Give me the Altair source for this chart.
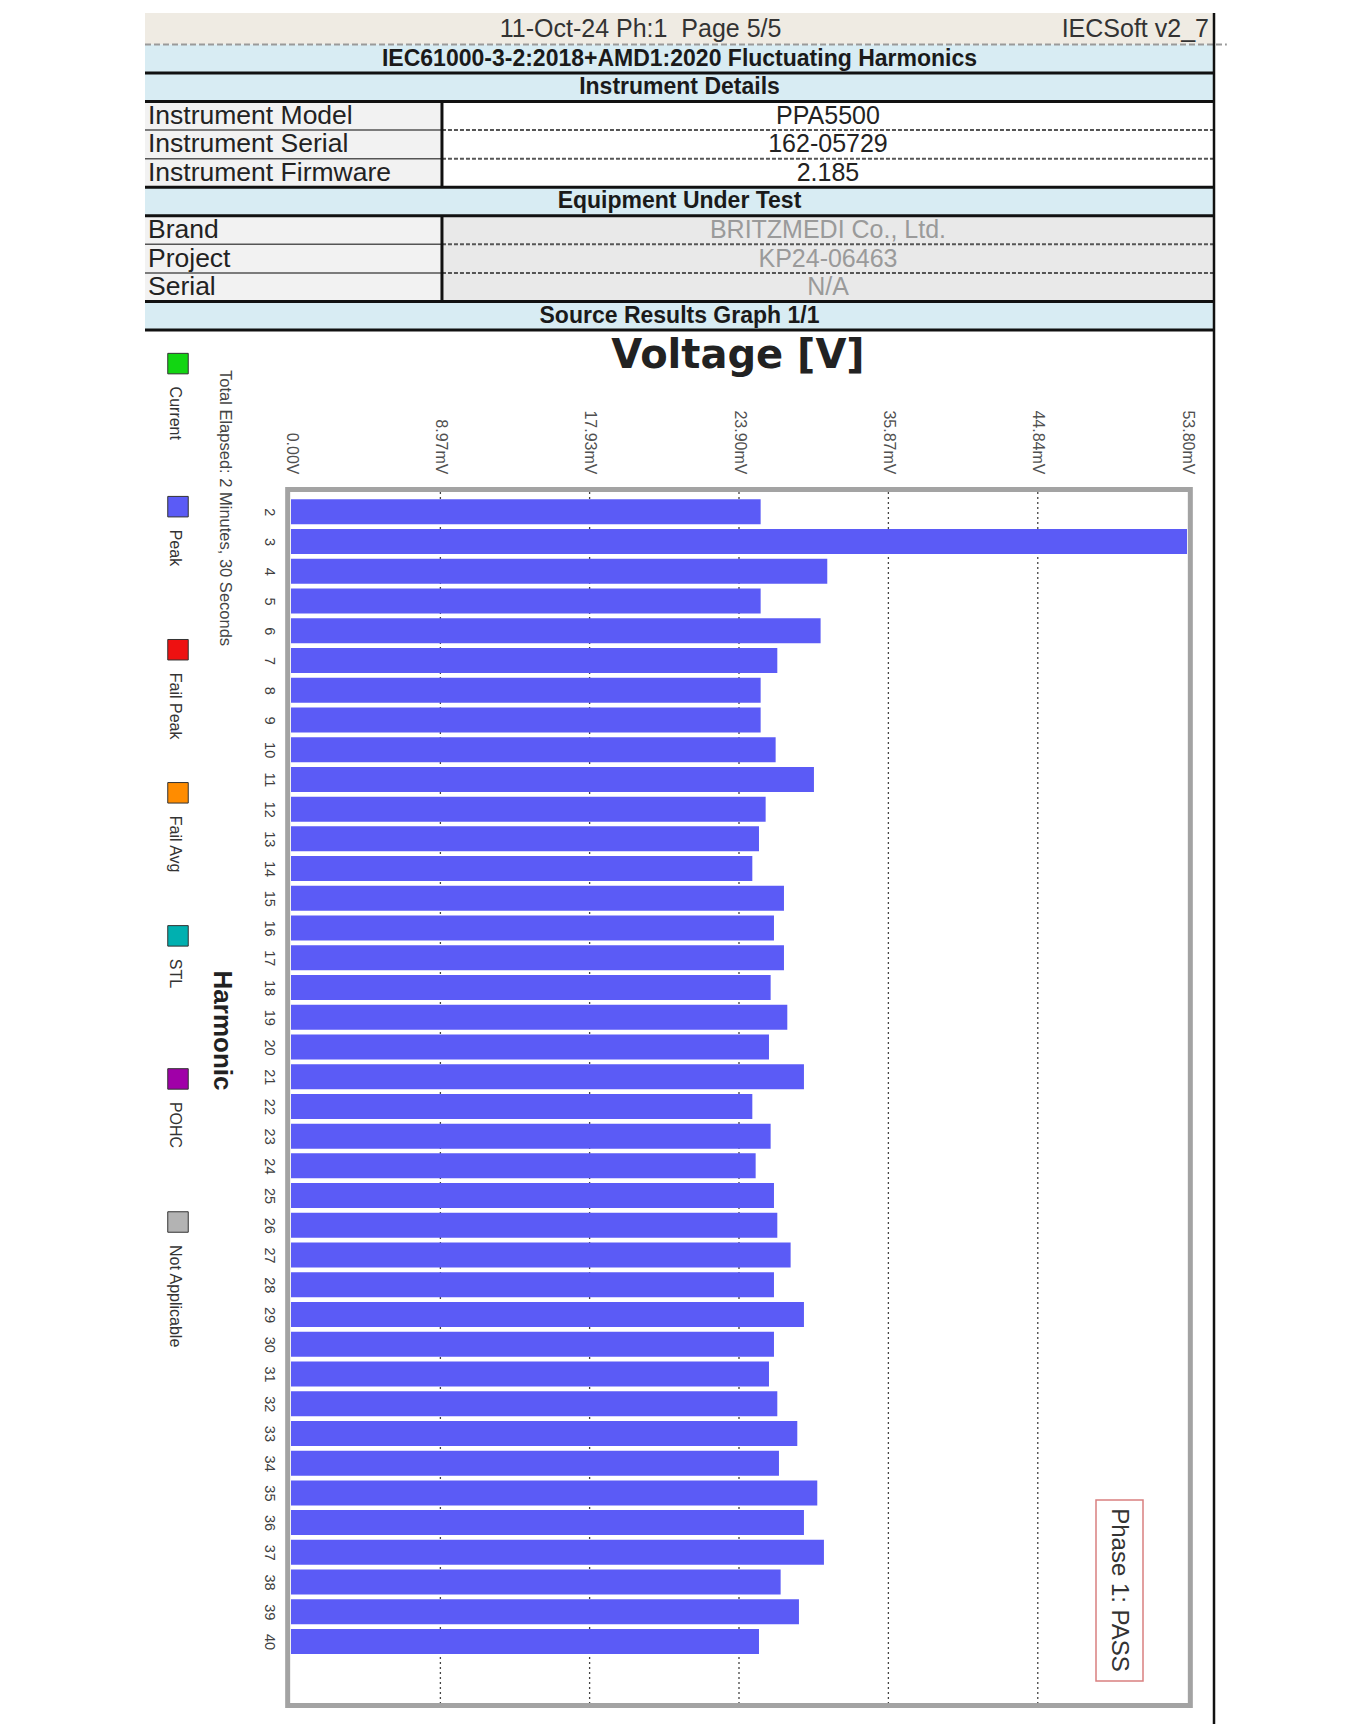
import altair as alt
import pandas as pd

# ---------------- data ----------------
harmonics = list(range(2, 41))
peak_mv = [28.2, 53.8, 32.2, 28.2, 31.8, 29.2, 28.2, 28.2, 29.1, 31.4,
           28.5, 28.1, 27.7, 29.6, 29.0, 29.6, 28.8, 29.8, 28.7, 30.8,
           27.7, 28.8, 27.9, 29.0, 29.2, 30.0, 29.0, 30.8, 29.0, 28.7,
           29.2, 30.4, 29.3, 31.6, 30.8, 32.0, 29.4, 30.5, 28.1]
x_tick_values = [0.0, 8.97, 17.93, 26.90, 35.87, 44.84, 53.80]
x_tick_labels = ["0.00V", "8.97mV", "17.93mV", "23.90mV", "35.87mV", "44.84mV", "53.80mV"]

legend_names = ["Current", "Peak", "Fail Peak", "Fail Avg", "STL", "POHC", "Not Applicable"]
legend_colors = ["#12d612", "#5b5bf6", "#ee1111", "#ff8c00", "#00b0b0", "#a000a8", "#b3b3b3"]

page_line = ["11-Oct-24 Ph:1\u00a0\u00a0Page 5/5", "IECSoft v2_7"]
section_titles = ["IEC61000-3-2:2018+AMD1:2020 Fluctuating Harmonics", "Instrument Details",
                  "Equipment Under Test", "Source Results Graph 1/1"]
instrument_labels = ["Instrument Model", "Instrument Serial", "Instrument Firmware"]
instrument_values = ["PPA5500", "162-05729", "2.185"]
eut_labels = ["Brand", "Project", "Serial"]
eut_values = ["BRITZMEDI Co., Ltd.", "KP24-06463", "N/A"]

chart_title = "Voltage [V]"
elapsed_note = "Total Elapsed: 2 Minutes, 30 Seconds"
verdict = "Phase 1: PASS"

# ---------------- layout ----------------
W, H = 1069, 1705
FONT = "Liberation Sans"
BAR_COLOR = "#5b5bf6"

volt_scale = alt.Scale(domain=[0, 53.8], range=[146, 1042], nice=False, zero=False)
harm_scale = alt.Scale(domain=[1.5, 41.9], range=[479, 1690], nice=False, zero=False)
hx = alt.Scale(domain=[0, 1], range=[0, W], nice=False, zero=False)
hy = alt.Scale(domain=[-0.1, 11], range=[0, 317], nice=False, zero=False)
leg_scale = alt.Scale(domain=[0, 6], range=[350.6, 1209], nice=False, zero=False)
split = 0.2778


def HX(f):
    return alt.X(f, type="quantitative", scale=hx, axis=None)


def HX2(f):
    return alt.X2(f)


def HY(f):
    return alt.Y(f, type="quantitative", scale=hy, axis=None)


# ---------------- header table ----------------
rects = [dict(x0=0, x1=1, y0=-0.1, y1=1, fill="#efebe3")]
for r in (1, 2, 6, 10):
    rects.append(dict(x0=0, x1=1, y0=r, y1=r + 1, fill="#d8ecf3"))
for r in (3, 4, 5):
    rects.append(dict(x0=0, x1=split, y0=r, y1=r + 1, fill="#f2f2f2"))
    rects.append(dict(x0=split, x1=1, y0=r, y1=r + 1, fill="#ffffff"))
for r in (7, 8, 9):
    rects.append(dict(x0=0, x1=split, y0=r, y1=r + 1, fill="#f2f2f2"))
    rects.append(dict(x0=split, x1=1, y0=r, y1=r + 1, fill="#e9e9e9"))
rect_df = pd.DataFrame(rects)

hdr_rects = alt.Chart(rect_df).mark_rect().encode(
    x=HX("x0"), x2=HX2("x1"), y=HY("y0"), y2=alt.Y2("y1"),
    fill=alt.Fill("fill:N", scale=None),
)

center_txt = [dict(t=page_line[0], x=0.4636, y=0.45, c="#333333")]
for i, v in enumerate(instrument_values):
    center_txt.append(dict(t=v, x=(split + 1) / 2, y=3 + i + 0.5, c="#222222"))
for i, v in enumerate(eut_values):
    center_txt.append(dict(t=v, x=(split + 1) / 2, y=7 + i + 0.5, c="#9a9a9a"))
center_df = pd.DataFrame(center_txt)
hdr_center = alt.Chart(center_df).mark_text(
    font=FONT, fontSize=25, align="center", baseline="middle"
).encode(x=HX("x"), y=HY("y"), text="t:N", color=alt.Color("c:N", scale=None))

right_df = pd.DataFrame([dict(t=page_line[1], x=0.9953, y=0.45)])
hdr_right = alt.Chart(right_df).mark_text(
    font=FONT, fontSize=25, align="right", baseline="middle", color="#333333"
).encode(x=HX("x"), y=HY("y"), text="t:N")

left_txt = []
for i, l in enumerate(instrument_labels):
    left_txt.append(dict(t=l, x=0, y=3 + i + 0.5))
for i, l in enumerate(eut_labels):
    left_txt.append(dict(t=l, x=0, y=7 + i + 0.5))
left_df = pd.DataFrame(left_txt)
hdr_left = alt.Chart(left_df).mark_text(
    font=FONT, fontSize=26.5, align="left", baseline="middle", dx=3, color="#222222"
).encode(x=HX("x"), y=HY("y"), text="t:N")

bold_df = pd.DataFrame([dict(t=s, x=0.5, y=r + 0.5) for s, r in zip(section_titles, (1, 2, 6, 10))])
hdr_bold = alt.Chart(bold_df).mark_text(
    font=FONT, fontSize=23, fontWeight="bold", align="center", baseline="middle", color="#1a1a1a"
).encode(x=HX("x"), y=HY("y"), text="t:N")

thick_df = pd.DataFrame([dict(x0=0, x1=1, y0=b, y1=b) for b in (2, 3, 6, 7, 10, 11)]
                        + [dict(x0=split, x1=split, y0=3, y1=6), dict(x0=split, x1=split, y0=7, y1=10)])
hdr_thick = alt.Chart(thick_df).mark_rule(color="#111111", strokeWidth=3).encode(
    x=HX("x0"), x2=HX2("x1"), y=HY("y0"), y2=alt.Y2("y1"))

border_df = pd.DataFrame([dict(x0=1, x1=1, y0=-0.1, y1=59.9)])
hdr_border = alt.Chart(border_df).mark_rule(color="#111111", strokeWidth=2.5).encode(
    x=HX("x0"), x2=HX2("x1"), y=HY("y0"), y2=alt.Y2("y1"))

dash_df = pd.DataFrame([dict(x0=split, x1=1, y0=b, y1=b) for b in (4, 5, 8, 9)])
hdr_dash = alt.Chart(dash_df).mark_rule(color="#555555", strokeWidth=2, strokeDash=[4, 2]).encode(
    x=HX("x0"), x2=HX2("x1"), y=HY("y0"), y2=alt.Y2("y1"))

thin_df = pd.DataFrame([dict(x0=0, x1=split, y0=b, y1=b) for b in (4, 5, 8, 9)])
hdr_thin = alt.Chart(thin_df).mark_rule(color="#555555", strokeWidth=1.5).encode(
    x=HX("x0"), x2=HX2("x1"), y=HY("y0"), y2=alt.Y2("y1"))

dot_df = pd.DataFrame([dict(x0=0, x1=1.012, y0=1, y1=1)])
hdr_dot = alt.Chart(dot_df).mark_rule(color="#9a9a9a", strokeWidth=2, strokeDash=[6, 3]).encode(
    x=HX("x0"), x2=HX2("x1"), y=HY("y0"), y2=alt.Y2("y1"))

# ---------------- bar chart ----------------
bars_df = pd.DataFrame({"harmonic": harmonics, "peak": peak_mv})

label_expr = ""
for v, lab in zip(x_tick_values, x_tick_labels):
    label_expr += f"abs(datum.value - {v}) < 0.01 ? '{lab}' : "
label_expr += "''"

bars = alt.Chart(bars_df).mark_bar(orient="horizontal", size=25, color=BAR_COLOR).encode(
    x=alt.X("peak:Q", scale=volt_scale, stack=None,
            axis=alt.Axis(orient="top", values=x_tick_values, labelExpr=label_expr,
                          labelAngle=90, labelAlign="right", labelBaseline="middle",
                          labelPadding=18, ticks=False, tickSize=0, domain=False, grid=False,
                          labelFontSize=16, labelColor="#505050", labelFont=FONT,
                          title=None, offset=-479, labelFlush=False, labelOverlap=False)),
    y=alt.Y("harmonic:Q", scale=harm_scale,
            axis=alt.Axis(orient="left", values=harmonics, format="d", labelAngle=90,
                          labelAlign="center", labelBaseline="middle", labelPadding=23,
                          ticks=False, tickSize=0, domain=False, grid=False,
                          labelFontSize=14.5, labelColor="#404040", labelFont=FONT,
                          title="Harmonic", titleAngle=90, titleFontSize=26, titleFont=FONT,
                          titleFontWeight="bold", titleColor="#222222", titleX=-70, titleY=1017,
                          titleAlign="center", titleBaseline="middle", offset=-146,
                          labelOverlap=False, labelFlush=False)),
)

grid_df = pd.DataFrame({"v": x_tick_values[1:-1], "y0": [1.5] * 5, "y1": [41.9] * 5})
grid = alt.Chart(grid_df).mark_rule(color="#444444", strokeWidth=1.3, strokeDash=[2, 3]).encode(
    x=alt.X("v:Q", scale=volt_scale, axis=None),
    y=alt.Y("y0:Q", scale=harm_scale, axis=None), y2="y1:Q")

frame_df = pd.DataFrame({"x0": [-0.2], "x1": [54.0], "y0": [1.42], "y1": [41.98]})
frame = alt.Chart(frame_df).mark_rect(fillOpacity=0, stroke="#a3a3a3", strokeWidth=5).encode(
    x=alt.X("x0:Q", scale=volt_scale, axis=None), x2="x1:Q",
    y=alt.Y("y0:Q", scale=harm_scale, axis=None), y2="y1:Q")

# ---------------- legend ----------------
leg_df = pd.DataFrame({"name": legend_names, "color": legend_colors, "i": list(range(len(legend_names)))})
leg_sq = alt.Chart(leg_df).mark_square(size=420, opacity=1, filled=True, stroke="#333333", strokeWidth=1).encode(
    x=alt.value(33), y=alt.Y("i:Q", scale=leg_scale, axis=None),
    fill=alt.Fill("color:N", scale=None))
leg_txt = alt.Chart(leg_df).mark_text(
    angle=90, align="left", baseline="middle", dx=23, fontSize=16, font=FONT, color="#333333"
).encode(x=alt.value(30), y=alt.Y("i:Q", scale=leg_scale, axis=None), text="name:N")

# ---------------- annotations ----------------
title_txt = alt.Chart(pd.DataFrame({"t": [chart_title]})).mark_text(
    font="DejaVu Sans", fontSize=40, fontWeight="bold", align="center", baseline="middle", color="#222222"
).encode(x=alt.value(593), y=alt.value(343), text="t:N")

elapsed_txt = alt.Chart(pd.DataFrame({"t": [elapsed_note]})).mark_text(
    font=FONT, fontSize=16.5, angle=90, align="left", baseline="middle", color="#444444"
).encode(x=alt.value(80), y=alt.value(357), text="t:N")

verdict_box = alt.Chart(pd.DataFrame({"t": [verdict]})).mark_rect(
    fill="#ffffff", stroke="#d98080", strokeWidth=1.5
).encode(x=alt.value(951), x2=alt.value(998), y=alt.value(1487), y2=alt.value(1668))

verdict_txt = alt.Chart(pd.DataFrame({"t": [verdict]})).mark_text(
    font=FONT, fontSize=24, angle=90, align="center", baseline="middle", color="#333333"
).encode(x=alt.value(974), y=alt.value(1577), text="t:N")

chart = alt.layer(
    hdr_rects, hdr_dot, hdr_thin, hdr_dash, hdr_thick, hdr_border,
    hdr_center, hdr_right, hdr_left, hdr_bold,
    grid, bars, frame, leg_sq, leg_txt,
    title_txt, elapsed_txt, verdict_box, verdict_txt,
).resolve_scale(
    x="independent", y="independent"
).properties(
    width=W, height=H,
    padding={"left": 135, "top": 3, "right": 5, "bottom": 0},
    background="white",
).configure_view(strokeWidth=0)

chart.save("out.html", embed_options={"renderer": "svg", "actions": False})
